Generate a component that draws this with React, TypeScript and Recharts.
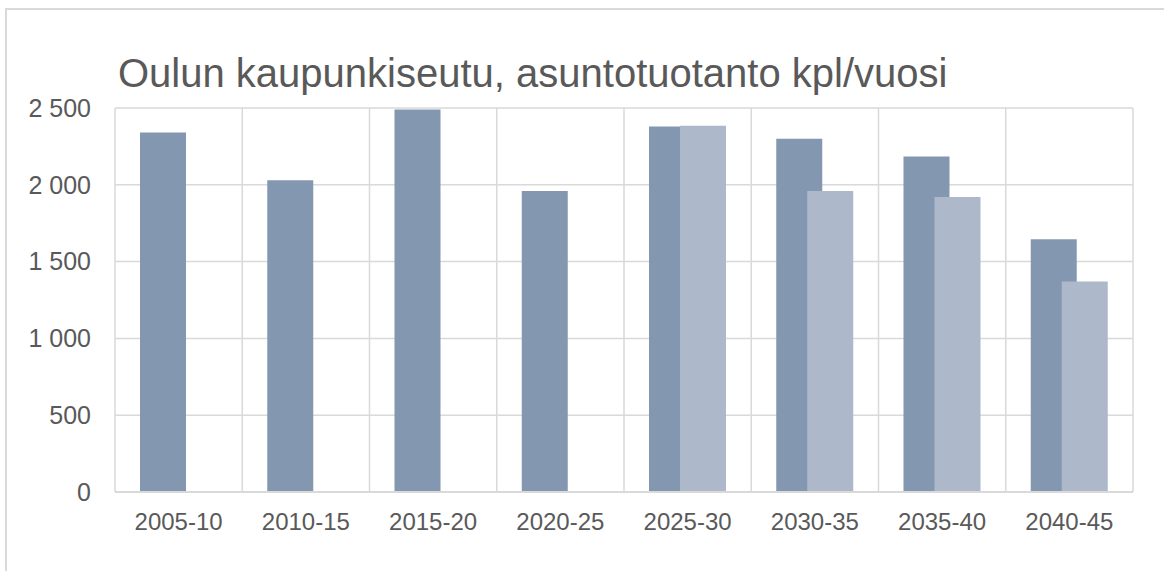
import React from 'react';
import { BarChart, Bar, XAxis, YAxis, CartesianGrid } from 'recharts';

const categories = ['2005-10', '2010-15', '2015-20', '2020-25', '2025-30', '2030-35', '2035-40', '2040-45'];
const seriesA = [2340, 2030, 2490, 1960, 2380, 2300, 2185, 1645];
const seriesB: (number | null)[] = [null, null, null, null, 2385, 1960, 1920, 1370];
const yTicks = [0, 500, 1000, 1500, 2000, 2500];
const title = 'Oulun kaupunkiseutu, asuntotuotanto kpl/vuosi';

const data = categories.map((c, i) => ({ name: c, a: seriesA[i], b: seriesB[i] }));

const fmt = (v: number) => String(v).replace(/\B(?=(\d{3})+(?!\d))/g, '\u00a0');

const FONT = '"Liberation Sans", Arial, sans-serif';
const TEXT = '#595959';
const GRID = '#d9d9d9';

export default function App() {
  return (
    <div style={{ position: 'absolute', left: 0, top: 0, width: 1164, height: 571, overflow: 'hidden', background: '#fff', fontFamily: FONT }}>
      <div style={{ position: 'absolute', left: 5, top: 8, width: 1159, height: 2, background: GRID }} />
      <div style={{ position: 'absolute', left: 5, top: 8, width: 2, height: 563, background: GRID }} />
      <div style={{ position: 'absolute', left: 118, top: 53, fontSize: 40, lineHeight: '40px', color: TEXT, whiteSpace: 'nowrap' }}>{title}</div>
      <div style={{ position: 'absolute', left: 0, top: 0 }}>
        <BarChart
          width={1164}
          height={571}
          data={data}
          margin={{ top: 108, right: 31, bottom: 49, left: 0 }}
          barSize={46}
          barGap={-15}
        >
          <CartesianGrid
            stroke={GRID}
            strokeWidth={1.5}
            verticalCoordinatesGenerator={({ offset }: any) =>
              Array.from({ length: categories.length + 1 }, (_, i) => offset.left + (i * offset.width) / categories.length)
            }
          />
          <XAxis
            dataKey="name"
            height={30}
            axisLine={{ stroke: GRID, strokeWidth: 2 }}
            tickLine={false}
            tickSize={0}
            tickMargin={21}
            tick={{ fill: TEXT, fontSize: 24, fontFamily: FONT }}
            interval={0}
          />
          <YAxis
            width={115}
            domain={[0, 2500]}
            ticks={yTicks}
            tickFormatter={fmt}
            axisLine={false}
            tickLine={false}
            tickSize={0}
            tickMargin={24}
            tick={{ fill: TEXT, fontSize: 25, fontFamily: FONT }}
          />
          <Bar dataKey="a" fill="#8497B0" isAnimationActive={false} />
          <Bar dataKey="b" fill="#ADB9CA" isAnimationActive={false} />
        </BarChart>
      </div>
    </div>
  );
}
